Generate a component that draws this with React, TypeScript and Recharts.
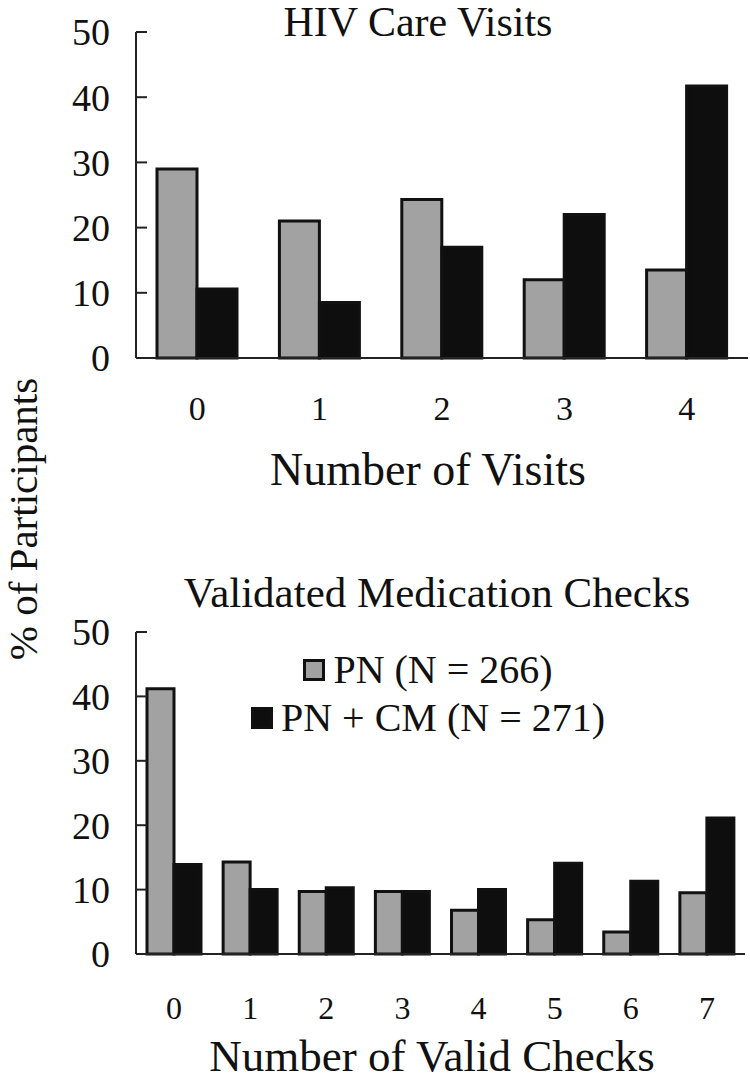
import { BarChart, Bar, XAxis, YAxis, Legend } from 'recharts';

const SERIF = '"Liberation Serif", "Times New Roman", serif';
const INK = '#111';
const GRAY = '#a2a2a2';
const BLACK = '#0e0e0e';

// HIV care visits (% of participants)
const visitCats = ['0', '1', '2', '3', '4'];
const visitsPN = [29, 21, 24.3, 12, 13.5];
const visitsPNCM = [10.6, 8.5, 17, 22, 41.7];

// validated medication checks (% of participants)
const checkCats = ['0', '1', '2', '3', '4', '5', '6', '7'];
const checksPN = [41.2, 14.3, 9.7, 9.7, 6.8, 5.3, 3.4, 9.5];
const checksPNCM = [13.9, 10, 10.3, 9.7, 10, 14.1, 11.3, 21.1];

const yTicks = [0, 10, 20, 30, 40, 50];
const seriesNames = ['PN (N = 266)', 'PN + CM (N = 271)'];

const visitData = visitCats.map((c, i) => ({ cat: c, pn: visitsPN[i], pncm: visitsPNCM[i] }));
const checkData = checkCats.map((c, i) => ({ cat: c, pn: checksPN[i], pncm: checksPNCM[i] }));

const renderLegend = () => (
  <div style={{ fontFamily: SERIF, fontSize: 40, color: INK, lineHeight: '48px' }}>
    {seriesNames.map((name, i) => (
      <div key={name} style={{ display: 'flex', alignItems: 'center', justifyContent: 'center' }}>
        <span
          style={{
            display: 'inline-block', width: 22, height: 22, boxSizing: 'border-box',
            background: i === 0 ? GRAY : BLACK, border: `3px solid ${INK}`, marginRight: 8,
          }}
        />
        {name}
      </div>
    ))}
  </div>
);

function Panel({ data, top, height, marginTop, marginRight, xHeight, tickFont, tickGap, barSize, legend }: {
  data: { cat: string; pn: number; pncm: number }[];
  top: number; height: number; marginTop: number; marginRight: number; xHeight: number;
  tickFont: number; tickGap: number; barSize: number; legend?: boolean;
}) {
  return (
    <div style={{ position: 'absolute', left: 0, top }}>
      <BarChart
        width={750}
        height={height}
        data={data}
        margin={{ top: marginTop, right: marginRight, bottom: 0, left: 0 }}
        barGap={0}
        barSize={barSize}
      >
        <XAxis
          dataKey="cat"
          height={xHeight}
          tickLine={false}
          tickSize={0}
          tickMargin={tickGap}
          axisLine={{ stroke: '#222', strokeWidth: 2 }}
          tick={{ fontSize: tickFont, fontFamily: SERIF, fill: INK }}
        />
        <YAxis
          width={136}
          domain={[0, 50]}
          ticks={yTicks}
          interval={0}
          tickSize={-11}
          tickMargin={37}
          tickLine={{ stroke: '#222', strokeWidth: 2 }}
          axisLine={{ stroke: '#222', strokeWidth: 2 }}
          tick={{ fontSize: 38, fontFamily: SERIF, fill: INK }}
        />
        {legend && (
          <Legend
            layout="vertical"
            verticalAlign="middle"
            align="center"
            content={renderLegend}
            wrapperStyle={{ top: 86, left: 178, width: 500 }}
          />
        )}
        <Bar dataKey="pn" name={seriesNames[0]} fill={GRAY} stroke={INK} strokeWidth={3} isAnimationActive={false} />
        <Bar dataKey="pncm" name={seriesNames[1]} fill={BLACK} stroke={INK} strokeWidth={3} isAnimationActive={false} />
      </BarChart>
    </div>
  );
}

export default function App() {
  return (
    <div style={{ position: 'absolute', left: 0, top: 0, width: 750, height: 1082, background: '#fff' }}>
      <Panel data={visitData} top={0} height={500} marginTop={32} marginRight={2} xHeight={142}
        tickFont={34} tickGap={38} barSize={40} />
      <Panel data={checkData} top={560} height={522} marginTop={72} marginRight={5} xHeight={128}
        tickFont={32} tickGap={42} barSize={27} legend />
      <svg width={750} height={1082} style={{ position: 'absolute', left: 0, top: 0, pointerEvents: 'none' }}>
        <g fontFamily={SERIF} fill={INK} textAnchor="middle">
          <text x={418} y={36} fontSize={42}>HIV Care Visits</text>
          <text x={428} y={485} fontSize={46}>Number of Visits</text>
          <text x={437} y={607} fontSize={43}>Validated Medication Checks</text>
          <text x={432} y={1071} fontSize={45}>Number of Valid Checks</text>
          <text x={37} y={519} fontSize={41} transform="rotate(-90 37 519)">% of Participants</text>
        </g>
      </svg>
    </div>
  );
}
